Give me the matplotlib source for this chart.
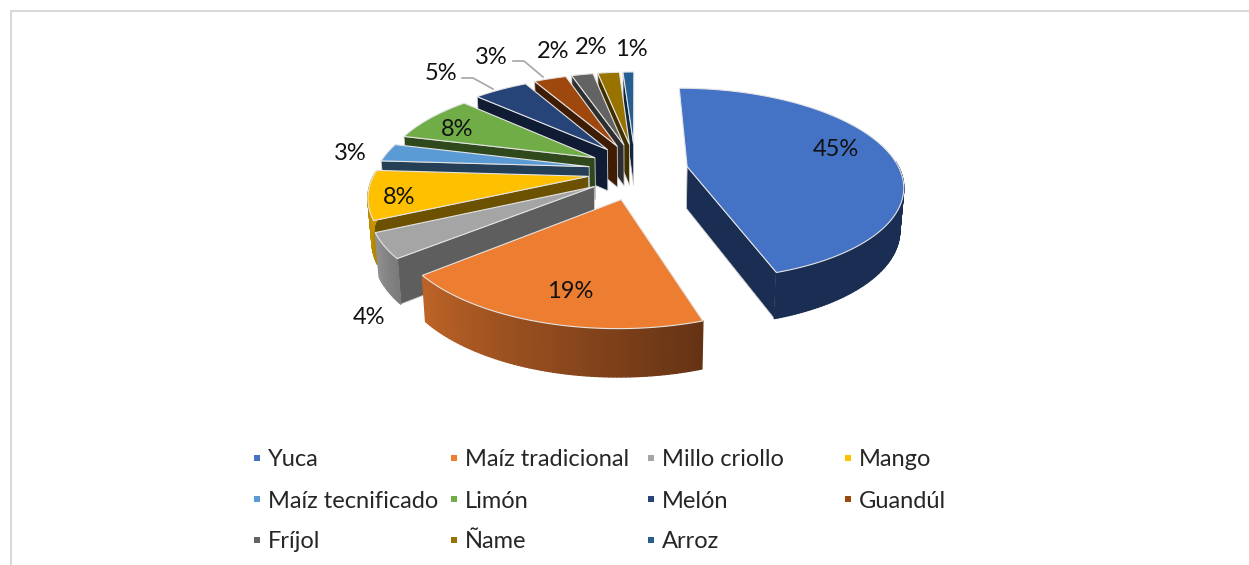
import numpy as np
import matplotlib
matplotlib.use("Agg")
import matplotlib.pyplot as plt
from matplotlib.patches import Polygon, Rectangle
from matplotlib.collections import PolyCollection

categories = ["Yuca", "Maíz tradicional", "Millo criollo", "Mango", "Maíz tecnificado",
              "Limón", "Melón", "Guandúl", "Fríjol", "Ñame", "Arroz"]
values = [45, 19, 4, 8, 3, 8, 5, 3, 2, 2, 1]
top_colors = ["#4472c4", "#ed7d31", "#a5a5a5", "#ffc000", "#5b9bd5", "#70ad47",
              "#264478", "#9e480e", "#636363", "#997300", "#255e91"]
wall_colors = ["#1a2d52", "#5e3012", "#5e5e5e", "#6b5100", "#253f57", "#2f491d",
               "#0f1c33", "#3f1d05", "#2e2e2e", "#403000", "#0f2840"]
# outer rim colours, left and right end of the gradient
rim_left = ["#1a2d52", "#bd6327", "#8f8f8f", "#cc9a00", "#253f57", "#2f491d",
            "#0f1c33", "#3f1d05", "#2e2e2e", "#403000", "#0f2840"]
rim_right = ["#1a2d52", "#653314", "#7a7a7a", "#b08500", "#253f57", "#2f491d",
             "#0f1c33", "#3f1d05", "#2e2e2e", "#403000", "#0f2840"]

# label text and where it sits
pct_labels = ["45%", "19%", "4%", "8%", "3%", "8%", "5%", "3%", "2%", "2%", "1%"]
label_x = [836, 570, 369, 399, 350, 457, 441, 491, 553, 591, 631]
label_y = [150, 291, 317, 197, 153, 130, 73, 57, 51, 47, 49]

# pie geometry in pixels
cx, cy = 635, 171
A, B = 213, 94
persp = 0.18
depth = 42
shrink = 0.985
ex_right, ex_left, ey = 0.25, 0.22, 0.3

plt.rcParams['font.family'] = ['Lato', 'DejaVu Sans']


def proj(u, v):
    s = 1 / (1 + persp * v)
    return cx + A * u * s, cy - B * v * s


def proj_low(u, v):
    s = 1 / (1 + persp * v)
    return cx + A * u * s * shrink, cy - B * v * s + depth * (0.5 + 0.5 * s)


def mix(c1, c2, t):
    a = np.array(matplotlib.colors.to_rgb(c1))
    b = np.array(matplotlib.colors.to_rgb(c2))
    return tuple(a + (b - a) * t)


fig = plt.figure(figsize=(12.49, 5.65), dpi=100)
ax = fig.add_axes([0, 0, 1, 1])
ax.set_xlim(0, 1249)
ax.set_ylim(565, 0)
ax.axis('off')

# frame of the chart, only left and top
ax.plot([11.5, 11.5, 1249], [565, 10.5, 10.5], color="#d9d9d9", lw=1.5)

edges = np.cumsum([0] + values) / sum(values) * 2 * np.pi
mids = (edges[:-1] + edges[1:]) / 2
offs_u = np.where(np.sin(mids) > 0, ex_right, ex_left) * np.sin(mids)
offs_v = ey * np.cos(mids)

# back slices first
for i in np.argsort(-offs_v - 0.5 * np.cos(mids)):
    t = np.linspace(edges[i], edges[i + 1], max(8, values[i] * 4))
    ou, ov = offs_u[i], offs_v[i]
    us = ou + np.sin(t)
    vs = ov + np.cos(t)

    # radial walls that face the viewer
    for k, w in enumerate([t[0], t[-1]]):
        uu = [ou, ou + np.sin(w)]
        vv = [ov, ov + np.cos(w)]
        p0 = proj(uu[0], vv[0])
        p1 = proj(uu[1], vv[1])
        p2 = proj_low(uu[1], vv[1])
        p3 = proj_low(uu[0], vv[0])
        # start wall shows on the left half, end wall on the right half
        facing = (k == 0 and np.sin(w) < 0) or (k == 1 and np.sin(w) > 0)
        if facing:
            ax.add_patch(Polygon([p0, p1, p2, p3], closed=True, fc=wall_colors[i],
                                 ec="#cfcfcf", lw=0.6, zorder=2))

    # outer rim, strip by strip
    polys = []
    cols = []
    for j in range(len(t) - 1):
        if np.cos((t[j] + t[j + 1]) / 2) < 0.05:
            frac = j / max(1, len(t) - 2)
            polys.append([proj(us[j], vs[j]), proj(us[j + 1], vs[j + 1]),
                          proj_low(us[j + 1], vs[j + 1]), proj_low(us[j], vs[j])])
            cols.append(mix(rim_right[i], rim_left[i], frac))
    if polys:
        ax.add_collection(PolyCollection(polys, facecolors=cols, edgecolors=cols,
                                         linewidths=1.0, zorder=2))

    top = [proj(ou, ov)] + [proj(a, b) for a, b in zip(us, vs)]
    ax.add_patch(Polygon(top, closed=True, fc=top_colors[i], ec="#e4e4e4", lw=0.8, zorder=2))

# leader lines for 5% and 3%
ax.plot([462, 473, 493], [78, 78, 89], color="#a6a6a6", lw=1.2, zorder=3)
ax.plot([513, 524, 543], [61, 61, 77], color="#a6a6a6", lw=1.2, zorder=3)

for lab, lx, ly in zip(pct_labels, label_x, label_y):
    ax.text(lx, ly, lab, fontsize=17, color="#111111", ha='center', va='center', zorder=4)

# legend, filled row by row
col_x = [254, 451, 648, 845]
row_y = [458, 499, 540]
for i, name in enumerate(categories):
    x = col_x[i % 4]
    y = row_y[i // 4]
    ax.add_patch(Rectangle((x, y - 3), 6, 6, fc=top_colors[i], ec='none'))
    ax.text(x + 14, y + 2, name, fontsize=17, color="#262626", ha='left', va='center')

fig.savefig("out.png", dpi=100)
